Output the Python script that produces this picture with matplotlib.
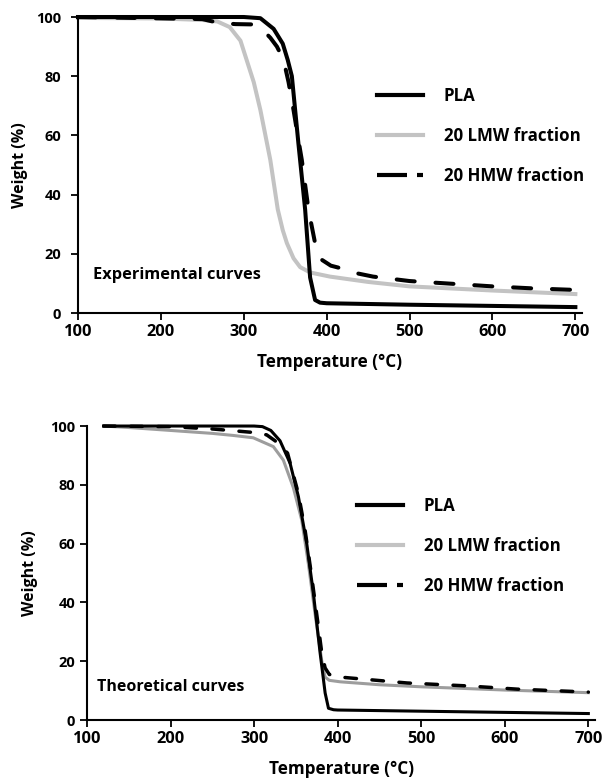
import matplotlib

matplotlib.use("Agg")
import matplotlib.pyplot as plt
from matplotlib.lines import Line2D

plt.rcParams["font.family"] = ["Open Sans", "DejaVu Sans"]
plt.rcParams["font.weight"] = "bold"
plt.rcParams["lines.scale_dashes"] = False

# Experimental curves (top panel)
temp_pla_exp = [100, 200, 300, 320, 336, 347, 353, 358, 366, 374, 380, 386, 392, 400, 500, 600, 700]
weight_pla_exp = [100, 100, 100, 99.6, 96, 91, 85.5, 80, 57, 35, 12, 4.4, 3.5, 3.3, 2.8, 2.4, 2.0]

temp_lmw_exp = [100, 200, 250, 268, 283, 296, 304, 312, 320, 332, 341, 347, 352, 360, 368, 380, 404, 450, 500, 600, 700]
weight_lmw_exp = [99.7, 99.5, 99.0, 98.5, 96.6, 92, 85, 78, 68.6, 51.7, 35, 28, 23.6, 18.5, 15.5, 13.7, 12.3, 10.5, 9.0, 7.6, 6.4]

temp_hmw_exp = [100, 250, 270, 290, 310, 325, 332, 340, 348, 354, 360, 365, 370, 378, 386, 394, 405, 416, 435, 456, 500, 550, 600, 650, 700]
weight_hmw_exp = [100, 99.3, 98, 97.6, 97.5, 95, 93, 90, 85.5, 78, 68.6, 60, 51.7, 35, 23.6, 18, 16, 15.2, 13.5, 12.3, 10.8, 9.9, 9.0, 8.3, 7.8]

# Theoretical curves (bottom panel)
temp_pla_th = [120, 200, 300, 310, 320, 331, 343, 353, 363, 371, 379, 385, 389, 395, 400, 500, 600, 700]
weight_pla_th = [100, 100, 100, 99.8, 98.5, 95, 87.4, 76, 60, 43, 22.8, 9.2, 4, 3.5, 3.4, 3.0, 2.6, 2.2]

temp_lmw_th = [120, 150, 200, 250, 275, 299, 323, 335, 347, 357, 365, 373, 381, 385, 390, 403, 450, 500, 600, 700]
weight_lmw_th = [100, 99.5, 98.5, 97.5, 96.8, 96, 93, 88.4, 79, 68, 53, 36, 20, 14.6, 13.5, 13, 12, 11.3, 10.2, 9.3]

temp_hmw_th = [120, 200, 250, 300, 315, 325, 340, 353, 361, 369, 377, 381, 385, 390, 403, 443, 483, 555, 615, 700]
weight_hmw_th = [100, 99.8, 99, 97.8, 97, 95, 90.8, 77, 64.6, 48.6, 31.6, 22.8, 17.7, 15.5, 14.6, 13.6, 12.6, 11.6, 10.5, 9.5]

series_labels = ["PLA", "20 LMW fraction", "20 HMW fraction"]
x_ticks = [100, 200, 300, 400, 500, 600, 700]
y_ticks = [0, 20, 40, 60, 80, 100]


def draw_panel(ax, curves, lw, lmw_color, hmw_dashes, note, legend_xy,
               ytick_size, ytick_pad, ylabel_pad):
    """Ein TGA-Panel zeichnen"""
    (t_pla, w_pla), (t_lmw, w_lmw), (t_hmw, w_hmw) = curves
    ax.plot(t_lmw, w_lmw, color=lmw_color, linewidth=lw[1], clip_on=False, zorder=2)
    ax.plot(t_hmw, w_hmw, color="black", linewidth=lw[2], linestyle=(0, hmw_dashes),
            dash_capstyle="round", clip_on=False, zorder=3)
    ax.plot(t_pla, w_pla, color="black", linewidth=lw[0], clip_on=False, zorder=4)

    ax.set_xlim(100, 708)
    ax.set_ylim(0, 100)
    ax.set_xticks(x_ticks)
    ax.set_yticks(y_ticks)
    ax.tick_params(axis="x", labelsize=11.8, direction="out", length=5, width=1.3, pad=3)
    ax.tick_params(axis="y", labelsize=ytick_size, direction="out", length=5, width=1.3,
                   pad=ytick_pad)
    for side in ("top", "right"):
        ax.spines[side].set_visible(False)
    for side in ("left", "bottom"):
        ax.spines[side].set_linewidth(1.5)
    ax.set_xlabel("Temperature (°C)", fontsize=12.3, fontweight="bold", labelpad=9)
    ax.set_ylabel("Weight (%)", fontsize=11.5, fontweight="bold", labelpad=ylabel_pad)

    ax.text(note[1], note[2], note[0], transform=ax.transAxes, fontsize=note[3],
            fontweight="bold", ha="left", va="center")

    handles = [
        Line2D([], [], color="black", linewidth=3),
        Line2D([], [], color="#c3c3c3", linewidth=3),
        Line2D([], [], color="black", linewidth=3, linestyle=(0, (21.6, 7.2))),
    ]
    ax.legend(handles, series_labels, loc="upper left", bbox_to_anchor=legend_xy,
              frameon=False, fontsize=12.2, handlelength=2.7, handletextpad=1.25,
              labelspacing=1.3, borderpad=0, borderaxespad=0)


def main() -> None:
    fig = plt.figure(figsize=(6.05, 7.8), dpi=100)

    ax_top = fig.add_axes([0.1289, 0.5987, 0.8331, 0.3795])
    draw_panel(
        ax_top,
        [(temp_pla_exp, weight_pla_exp), (temp_lmw_exp, weight_lmw_exp),
         (temp_hmw_exp, weight_hmw_exp)],
        lw=(2.9, 2.9, 2.9),
        lmw_color="#c3c3c3",
        hmw_dashes=(13, 15),
        note=("Experimental curves", 0.03, 0.128, 11.8),
        legend_xy=(0.593, 0.764),
        ytick_size=10.5,
        ytick_pad=7,
        ylabel_pad=6,
    )

    ax_bot = fig.add_axes([0.1438, 0.0769, 0.8397, 0.3769])
    draw_panel(
        ax_bot,
        [(temp_pla_th, weight_pla_th), (temp_lmw_th, weight_lmw_th),
         (temp_hmw_th, weight_hmw_th)],
        lw=(2.2, 2.2, 2.5),
        lmw_color="#9d9d9d",
        hmw_dashes=(8.3, 11.2),
        note=("Theoretical curves", 0.02, 0.112, 11.5),
        legend_xy=(0.531, 0.759),
        ytick_size=10.5,
        ytick_pad=3.5,
        ylabel_pad=9,
    )

    fig.savefig("out.png", dpi=100)


if __name__ == "__main__":
    main()
